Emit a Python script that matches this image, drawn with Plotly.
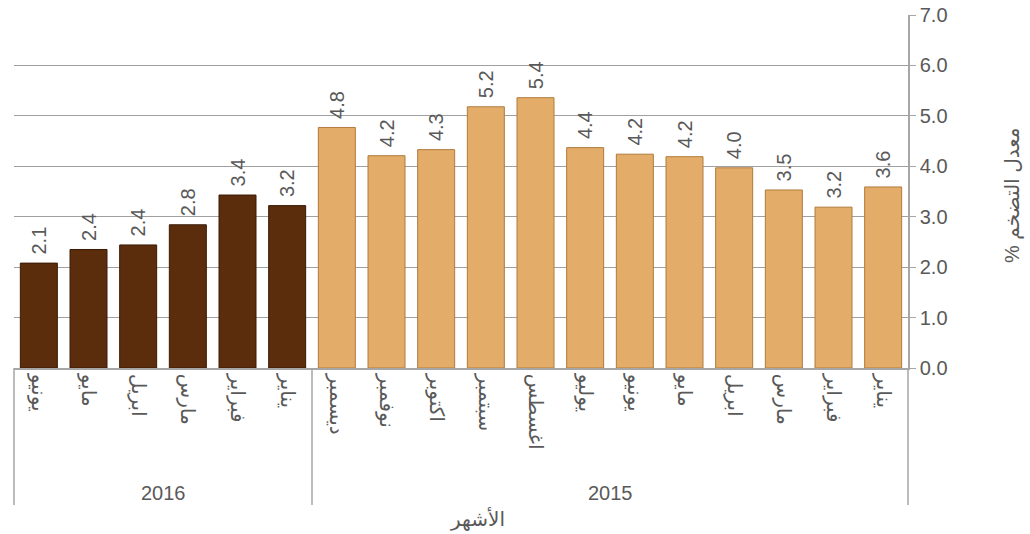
import plotly.graph_objects as go

# Data (chronological; x axis is reversed to read right-to-left)
years = ["2015"] * 12 + ["2016"] * 6
months = ["يناير", "فبراير", "مارس", "ابريل", "مايو", "يونيو", "يوليو", "اغسطس",
          "سبتمبر", "اكتوبر", "نوفمبر", "ديسمبر",
          "يناير", "فبراير", "مارس", "ابريل", "مايو", "يونيو"]
values = [3.59, 3.19, 3.53, 3.97, 4.19, 4.24, 4.37, 5.36, 5.18, 4.33, 4.21, 4.77,
          3.22, 3.43, 2.84, 2.44, 2.35, 2.08]
year_labels = ["2015", "2016"]

color_map = {"2015": "#E3AD69", "2016": "#5B2D0C"}
line_map = {"2015": "#B07A3C", "2016": "#3A1A05"}

cats = [f"{y}-{i}" for i, y in enumerate(years)]

font = dict(family="Liberation Sans, Arial", size=20, color="#595959")
mfont = dict(family="Liberation Sans, DejaVu Sans", size=20, color="#595959")

# plot-area in page pixels: x 14..908, y 15..368 (body margin removed by post_script)
W, H = 1030, 534
L, T, R, B = 14, 15, W - 908, H - 368
PH = 368 - 15
PW = 908 - 14

fig = go.Figure()
fig.add_trace(go.Bar(
    x=cats, y=values,
    marker=dict(color=[color_map[y] for y in years],
                line=dict(color=[line_map[y] for y in years], width=1)),
    text=["\u00a0" + f"{v:.1f}" for v in values],
    textposition="outside", textangle=-90,
    textfont=font,
    cliponaxis=False,
    hoverinfo="skip",
))

# group dividers
shapes = []
div_y = -(505 - 368) / PH
for x0 in [0, 1]:
    shapes.append(dict(type="line", xref="paper", yref="paper", x0=x0, x1=x0, y0=0, y1=div_y,
                       line=dict(color="#A6A6A6", width=1.5)))
shapes.append(dict(type="line", xref="x", yref="paper", x0=11.5, x1=11.5, y0=0, y1=div_y,
                   line=dict(color="#A6A6A6", width=1.5)))

annotations = []
for yl in year_labels:
    idx = [i for i, y in enumerate(years) if y == yl]
    annotations.append(dict(x=(idx[0] + idx[-1]) / 2, xref="x", y=(368 - 493) / PH, yref="paper",
                            xanchor="center", yanchor="middle",
                            text=yl, showarrow=False, font=font))
annotations.append(dict(x=(478 - 14) / PW, xref="paper", y=(368 - 519) / PH, yref="paper",
                        xanchor="center", yanchor="middle",
                        text="الأشهر", showarrow=False, font=mfont))
annotations.append(dict(x=(1012 - 14) / PW, xref="paper", y=(368 - 195) / PH, yref="paper",
                        xanchor="center", yanchor="middle",
                        text="% معدل التضخم", textangle=-90, showarrow=False, font=mfont))

fig.update_layout(
    width=W, height=H,
    margin=dict(l=L, r=R, t=T, b=B),
    paper_bgcolor="white", plot_bgcolor="white",
    bargap=0.255,
    showlegend=False,
    hovermode=False,
    font=font,
    xaxis=dict(type="category", autorange="reversed", automargin=False,
               tickmode="array", tickvals=cats, ticktext=months, tickangle=90,
               showline=True, linecolor="#A6A6A6", linewidth=1.5,
               showgrid=False, ticks="", tickfont=mfont, ticklabeloverflow="allow"),
    yaxis=dict(side="right", range=[0, 7], dtick=1, tickformat=".1f", automargin=False,
               showgrid=True, gridcolor="#A0A0A0", gridwidth=1,
               showline=True, linecolor="#A6A6A6", linewidth=1.5,
               ticks="outside", ticklen=6, tickcolor="#A6A6A6",
               zeroline=False, tickfont=font, ticklabeloverflow="allow"),
    shapes=shapes,
    annotations=annotations,
)

fig.write_html("out.html", config={"displayModeBar": False},
               post_script="document.body.style.margin='0px';")
